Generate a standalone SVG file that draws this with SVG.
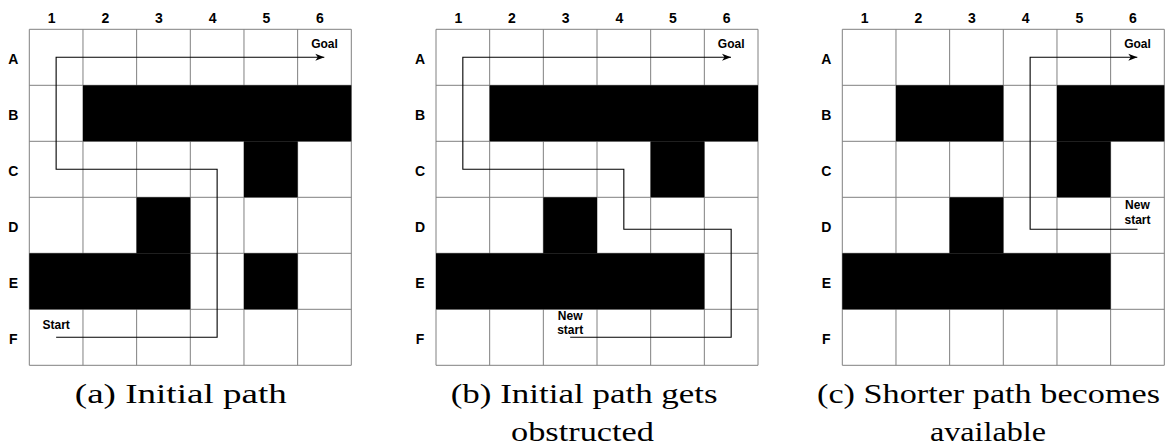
<svg xmlns="http://www.w3.org/2000/svg" width="1175" height="445" viewBox="0 0 1175 445">
<style>
.grid line{stroke:#808080;stroke-width:1;}
.blk{fill:#000;}
.col{font-family:"Liberation Sans",Arial,sans-serif;font-weight:bold;font-size:14px;text-anchor:middle;fill:#000;}
.lbl{font-family:"Liberation Sans",Arial,sans-serif;font-weight:bold;font-size:12px;text-anchor:middle;fill:#000;}
.path{fill:none;stroke:#000;stroke-width:1.1;}
.cap{font-family:"Liberation Serif","Times New Roman",serif;font-size:28px;text-anchor:middle;fill:#000;}
</style>
<defs>
<marker id="arr" markerUnits="userSpaceOnUse" markerWidth="10" markerHeight="8" refX="9" refY="4" orient="auto">
<path d="M0,0.5 L9,4 L0,7.5 L2.5,4 Z" fill="#000"/>
</marker>
<g id="gridlines" class="grid">
<line x1="0" y1="0" x2="0" y2="336"/>
<line x1="53.67" y1="0" x2="53.67" y2="336"/>
<line x1="107.33" y1="0" x2="107.33" y2="336"/>
<line x1="161" y1="0" x2="161" y2="336"/>
<line x1="214.67" y1="0" x2="214.67" y2="336"/>
<line x1="268.33" y1="0" x2="268.33" y2="336"/>
<line x1="322" y1="0" x2="322" y2="336"/>
<line x1="0" y1="0" x2="322" y2="0"/>
<line x1="0" y1="56" x2="322" y2="56"/>
<line x1="0" y1="112" x2="322" y2="112"/>
<line x1="0" y1="168" x2="322" y2="168"/>
<line x1="0" y1="224" x2="322" y2="224"/>
<line x1="0" y1="280" x2="322" y2="280"/>
<line x1="0" y1="336" x2="322" y2="336"/>
</g>
<g id="labels">
<text class="col" x="22.3" y="-6.6">1</text>
<text class="col" x="76" y="-6.6">2</text>
<text class="col" x="129.7" y="-6.6">3</text>
<text class="col" x="183.3" y="-6.6">4</text>
<text class="col" x="237" y="-6.6">5</text>
<text class="col" x="290.7" y="-6.6">6</text>
<text class="col" x="-16" y="34.5">A</text>
<text class="col" x="-16" y="90.5">B</text>
<text class="col" x="-16" y="146.5">C</text>
<text class="col" x="-16" y="202.5">D</text>
<text class="col" x="-16" y="258.5">E</text>
<text class="col" x="-16" y="314.5">F</text>
</g>
</defs>
<rect width="1175" height="445" fill="#fff"/>

<g id="panel-a" transform="translate(29.3,29.3)">
<rect x="0" y="0" width="322" height="336" fill="#fff"/>
<use href="#gridlines"/>
<rect class="blk" x="53.67" y="56" width="268.33" height="56"/>
<rect class="blk" x="214.67" y="112" width="53.66" height="56"/>
<rect class="blk" x="107.33" y="168" width="53.67" height="56"/>
<rect class="blk" x="0" y="224" width="161" height="56"/>
<rect class="blk" x="214.67" y="224" width="53.66" height="56"/>
<use href="#labels"/>
<text class="lbl" x="295.17" y="19">Goal</text>
<text class="lbl" x="26.83" y="299.7">Start</text>
</g>

<g id="panel-b" transform="translate(436,29.3)">
<rect x="0" y="0" width="322" height="336" fill="#fff"/>
<use href="#gridlines"/>
<rect class="blk" x="53.67" y="56" width="268.33" height="56"/>
<rect class="blk" x="214.67" y="112" width="53.66" height="56"/>
<rect class="blk" x="107.33" y="168" width="53.67" height="56"/>
<rect class="blk" x="0" y="224" width="268.33" height="56"/>
<use href="#labels"/>
<text class="lbl" x="295.17" y="19">Goal</text>
<text class="lbl" x="134.17" y="290.7">New</text>
<text class="lbl" x="134.17" y="305">start</text>
</g>

<g id="panel-c" transform="translate(842.3,29.3)">
<rect x="0" y="0" width="322" height="336" fill="#fff"/>
<use href="#gridlines"/>
<rect class="blk" x="53.67" y="56" width="107.33" height="56"/>
<rect class="blk" x="214.67" y="56" width="107.33" height="56"/>
<rect class="blk" x="214.67" y="112" width="53.66" height="56"/>
<rect class="blk" x="107.33" y="168" width="53.67" height="56"/>
<rect class="blk" x="0" y="224" width="268.33" height="56"/>
<use href="#labels"/>
<text class="lbl" x="295.17" y="19">Goal</text>
<text class="lbl" x="295.17" y="180">New</text>
<text class="lbl" x="295.17" y="195">start</text>
</g>

<g id="connectors">
<polyline class="path" marker-end="url(#arr)" transform="translate(29.3,29.3)" points="26.83,308 187.83,308 187.83,140 26.83,140 26.83,28 295,28"/>
<polyline class="path" marker-end="url(#arr)" transform="translate(436,29.3)" points="134.17,308 295.17,308 295.17,200 187.83,200 187.83,140 26.83,140 26.83,28 295,28"/>
<polyline class="path" marker-end="url(#arr)" transform="translate(842.3,29.3)" points="295.17,200 187.83,200 187.83,28 295,28"/>
</g>

<g id="captions">
<text class="cap" x="180.8" y="402.5" textLength="212" lengthAdjust="spacingAndGlyphs">(a) Initial path</text>
<text class="cap" x="584.2" y="402.5" textLength="267" lengthAdjust="spacingAndGlyphs">(b) Initial path gets</text>
<text class="cap" x="582.5" y="441" textLength="143" lengthAdjust="spacingAndGlyphs">obstructed</text>
<text class="cap" x="988.5" y="402.5" textLength="343" lengthAdjust="spacingAndGlyphs">(c) Shorter path becomes</text>
<text class="cap" x="988" y="441" textLength="116" lengthAdjust="spacingAndGlyphs">available</text>
</g>
</svg>
